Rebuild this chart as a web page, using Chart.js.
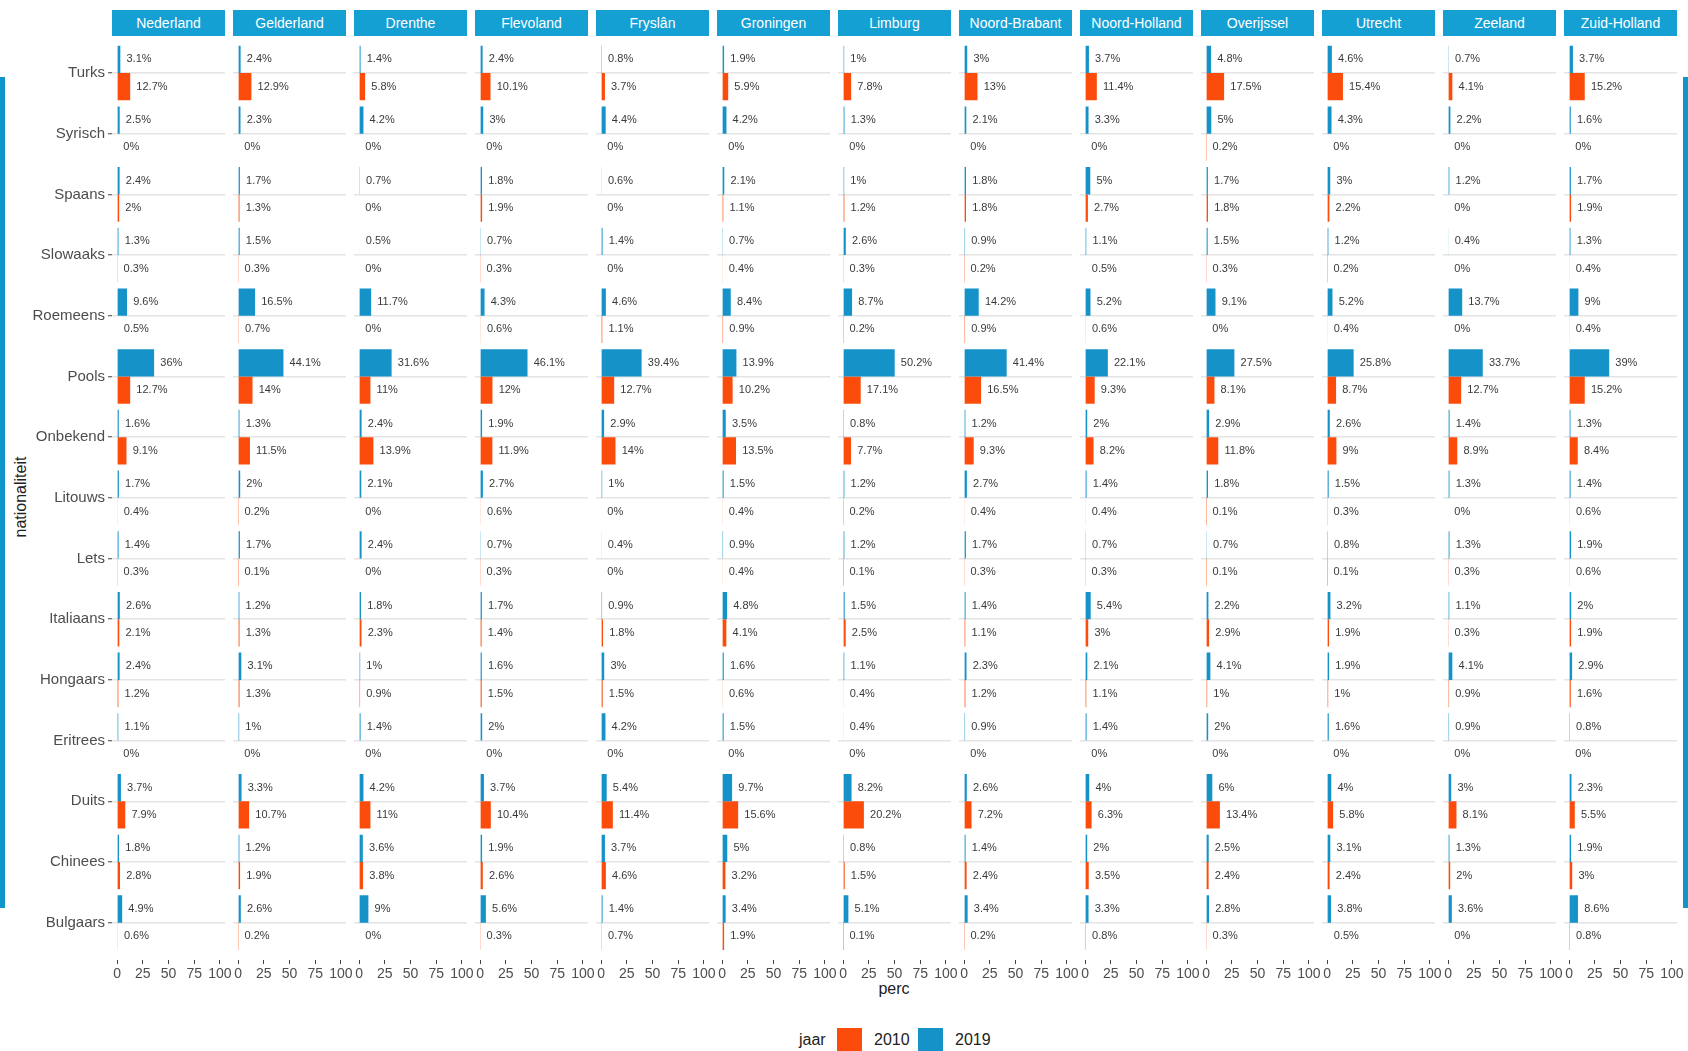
<!DOCTYPE html>
<html>
<head>
<meta charset="utf-8">
<script src="https://cdn.jsdelivr.net/npm/chart.js@4.4.1/dist/chart.umd.min.js"></script>
<style>
  body { margin: 0; background: #fff; font-family: 'Liberation Sans', Arial, sans-serif; }
  #wrap { position: relative; width: 1688px; height: 1051px; overflow: hidden; background: #fff; }
  .strip { position: absolute; top: 10px; height: 26px; line-height: 26px; background: #15a0d4; color: #fff; font-size: 14px; text-align: center; }
  .panel { position: absolute; }
  .edge { position: absolute; top: 77px; width: 5px; height: 831px; background: #0f95c9; }
  #xtitle { position: absolute; left: 844px; width: 100px; top: 980px; text-align: center; font-size: 16px; color: #222; }
  #ytitle { position: absolute; left: -39px; top: 488px; width: 120px; text-align: center; font-size: 16px; color: #222; transform: rotate(-90deg); }
  #legend { position: absolute; left: 799px; top: 1028px; height: 25px; font-size: 16px; color: #222; }
  #legend span { position: absolute; top: 3px; white-space: nowrap; }
  #legend i { position: absolute; top: 0; width: 25px; height: 25px; }
</style>
</head>
<body>
<div id="wrap">
  <div class="edge" style="left:0"></div>
  <div class="edge" style="left:1683px"></div>
  <div id="ytitle">nationaliteit</div>
  <div id="xtitle">perc</div>
  <div id="legend">
    <span style="left:0">jaar</span>
    <i style="left:38px; background:#fb4c0b"></i>
    <span style="left:75px">2010</span>
    <i style="left:119px; background:#1592c8"></i>
    <span style="left:156px">2019</span>
  </div>
</div>
<script>
// provinces (facets) and nationalities (top to bottom)
const provinces = ['Nederland', 'Gelderland', 'Drenthe', 'Flevoland', 'Fryslân', 'Groningen', 'Limburg',
  'Noord-Brabant', 'Noord-Holland', 'Overijssel', 'Utrecht', 'Zeeland', 'Zuid-Holland'];
const nationalities = ['Turks', 'Syrisch', 'Spaans', 'Slowaaks', 'Roemeens', 'Pools', 'Onbekend', 'Litouws',
  'Lets', 'Italiaans', 'Hongaars', 'Eritrees', 'Duits', 'Chinees', 'Bulgaars'];
const percTicks = [0, 25, 50, 75, 100];

// percentages per province, same order as nationalities
const nederland2019    = [3.1, 2.5, 2.4, 1.3, 9.6, 36, 1.6, 1.7, 1.4, 2.6, 2.4, 1.1, 3.7, 1.8, 4.9];
const nederland2010    = [12.7, 0, 2, 0.3, 0.5, 12.7, 9.1, 0.4, 0.3, 2.1, 1.2, 0, 7.9, 2.8, 0.6];
const gelderland2019   = [2.4, 2.3, 1.7, 1.5, 16.5, 44.1, 1.3, 2, 1.7, 1.2, 3.1, 1, 3.3, 1.2, 2.6];
const gelderland2010   = [12.9, 0, 1.3, 0.3, 0.7, 14, 11.5, 0.2, 0.1, 1.3, 1.3, 0, 10.7, 1.9, 0.2];
const drenthe2019      = [1.4, 4.2, 0.7, 0.5, 11.7, 31.6, 2.4, 2.1, 2.4, 1.8, 1, 1.4, 4.2, 3.6, 9];
const drenthe2010      = [5.8, 0, 0, 0, 0, 11, 13.9, 0, 0, 2.3, 0.9, 0, 11, 3.8, 0];
const flevoland2019    = [2.4, 3, 1.8, 0.7, 4.3, 46.1, 1.9, 2.7, 0.7, 1.7, 1.6, 2, 3.7, 1.9, 5.6];
const flevoland2010    = [10.1, 0, 1.9, 0.3, 0.6, 12, 11.9, 0.6, 0.3, 1.4, 1.5, 0, 10.4, 2.6, 0.3];
const fryslan2019      = [0.8, 4.4, 0.6, 1.4, 4.6, 39.4, 2.9, 1, 0.4, 0.9, 3, 4.2, 5.4, 3.7, 1.4];
const fryslan2010      = [3.7, 0, 0, 0, 1.1, 12.7, 14, 0, 0, 1.8, 1.5, 0, 11.4, 4.6, 0.7];
const groningen2019    = [1.9, 4.2, 2.1, 0.7, 8.4, 13.9, 3.5, 1.5, 0.9, 4.8, 1.6, 1.5, 9.7, 5, 3.4];
const groningen2010    = [5.9, 0, 1.1, 0.4, 0.9, 10.2, 13.5, 0.4, 0.4, 4.1, 0.6, 0, 15.6, 3.2, 1.9];
const limburg2019      = [1, 1.3, 1, 2.6, 8.7, 50.2, 0.8, 1.2, 1.2, 1.5, 1.1, 0.4, 8.2, 0.8, 5.1];
const limburg2010      = [7.8, 0, 1.2, 0.3, 0.2, 17.1, 7.7, 0.2, 0.1, 2.5, 0.4, 0, 20.2, 1.5, 0.1];
const noordBrabant2019 = [3, 2.1, 1.8, 0.9, 14.2, 41.4, 1.2, 2.7, 1.7, 1.4, 2.3, 0.9, 2.6, 1.4, 3.4];
const noordBrabant2010 = [13, 0, 1.8, 0.2, 0.9, 16.5, 9.3, 0.4, 0.3, 1.1, 1.2, 0, 7.2, 2.4, 0.2];
const noordHolland2019 = [3.7, 3.3, 5, 1.1, 5.2, 22.1, 2, 1.4, 0.7, 5.4, 2.1, 1.4, 4, 2, 3.3];
const noordHolland2010 = [11.4, 0, 2.7, 0.5, 0.6, 9.3, 8.2, 0.4, 0.3, 3, 1.1, 0, 6.3, 3.5, 0.8];
const overijssel2019   = [4.8, 5, 1.7, 1.5, 9.1, 27.5, 2.9, 1.8, 0.7, 2.2, 4.1, 2, 6, 2.5, 2.8];
const overijssel2010   = [17.5, 0.2, 1.8, 0.3, 0, 8.1, 11.8, 0.1, 0.1, 2.9, 1, 0, 13.4, 2.4, 0.3];
const utrecht2019      = [4.6, 4.3, 3, 1.2, 5.2, 25.8, 2.6, 1.5, 0.8, 3.2, 1.9, 1.6, 4, 3.1, 3.8];
const utrecht2010      = [15.4, 0, 2.2, 0.2, 0.4, 8.7, 9, 0.3, 0.1, 1.9, 1, 0, 5.8, 2.4, 0.5];
const zeeland2019      = [0.7, 2.2, 1.2, 0.4, 13.7, 33.7, 1.4, 1.3, 1.3, 1.1, 4.1, 0.9, 3, 1.3, 3.6];
const zeeland2010      = [4.1, 0, 0, 0, 0, 12.7, 8.9, 0, 0.3, 0.3, 0.9, 0, 8.1, 2, 0];
const zuidHolland2019  = [3.7, 1.6, 1.7, 1.3, 9, 39, 1.3, 1.4, 1.9, 2, 2.9, 0.8, 2.3, 1.9, 8.6];
const zuidHolland2010  = [15.2, 0, 1.9, 0.4, 0.4, 15.2, 8.4, 0.6, 0.6, 1.9, 1.6, 0, 5.5, 3, 0.8];

const values2019 = [nederland2019, gelderland2019, drenthe2019, flevoland2019, fryslan2019, groningen2019,
  limburg2019, noordBrabant2019, noordHolland2019, overijssel2019, utrecht2019, zeeland2019, zuidHolland2019];
const values2010 = [nederland2010, gelderland2010, drenthe2010, flevoland2010, fryslan2010, groningen2010,
  limburg2010, noordBrabant2010, noordHolland2010, overijssel2010, utrecht2010, zeeland2010, zuidHolland2010];

const blue = '#1592c8';
const orange = '#fb4c0b';

// layout of the facet grid
const PANEL_X0 = 112, PANEL_STEP = 121, PANEL_W = 113;
const CANVAS_TOP = 36, AREA_TOP = 42.7, AREA_H = 910.3, XAXIS_H = 30, SIDE = 14;

// "12.7%" text next to each bar
const valueLabels = {
  id: 'valueLabels',
  afterDatasetsDraw(chart) {
    const ctx = chart.ctx;
    const xs = chart.scales.x;
    ctx.save();
    ctx.font = '11px "Liberation Sans", Arial, sans-serif';
    ctx.fillStyle = '#3a3a3a';
    ctx.textAlign = 'left';
    ctx.textBaseline = 'middle';
    chart.data.datasets.forEach((ds, di) => {
      chart.getDatasetMeta(di).data.forEach((bar, i) => {
        const v = ds.data[i];
        ctx.fillText(v + '%', xs.getPixelForValue(v + 6), bar.y);
      });
    });
    ctx.restore();
  }
};

Chart.defaults.font.family = "'Liberation Sans', Arial, sans-serif";

const wrap = document.getElementById('wrap');

provinces.forEach((name, p) => {
  const first = p === 0;
  const left = PANEL_X0 + PANEL_STEP * p;

  const strip = document.createElement('div');
  strip.className = 'strip';
  strip.style.left = left + 'px';
  strip.style.width = PANEL_W + 'px';
  strip.textContent = name;
  wrap.appendChild(strip);

  const cLeft = first ? 0 : left - SIDE;
  const cw = (left - cLeft) + PANEL_W + SIDE;
  const ch = Math.round(AREA_TOP - CANVAS_TOP + AREA_H + XAXIS_H);
  const canvas = document.createElement('canvas');
  canvas.className = 'panel';
  canvas.width = cw;
  canvas.height = ch;
  canvas.style.left = cLeft + 'px';
  canvas.style.top = CANVAS_TOP + 'px';
  wrap.appendChild(canvas);

  new Chart(canvas, {
    type: 'bar',
    data: {
      labels: nationalities,
      datasets: [
        { label: '2019', data: values2019[p], backgroundColor: blue, categoryPercentage: 0.9, barPercentage: 1 },
        { label: '2010', data: values2010[p], backgroundColor: orange, categoryPercentage: 0.9, barPercentage: 1 }
      ]
    },
    options: {
      indexAxis: 'y',
      responsive: false,
      animation: false,
      layout: { padding: { left: first ? 0 : SIDE, right: SIDE, top: AREA_TOP - CANVAS_TOP, bottom: 0 } },
      plugins: { legend: { display: false }, tooltip: { enabled: false } },
      scales: {
        x: {
          type: 'linear',
          min: -5,
          max: 105,
          afterBuildTicks: s => { s.ticks = percTicks.map(v => ({ value: v })); },
          afterFit: s => { s.height = XAXIS_H; },
          border: { display: false },
          grid: { drawOnChartArea: false, tickLength: 11, tickColor: '#444', tickWidth: 1, tickBorderDash: [0, 7, 4, 20] },
          ticks: { autoSkip: false, maxRotation: 0, minRotation: 0, padding: 2, color: '#4d4d4d', font: { size: 14 } }
        },
        y: {
          border: { display: false },
          afterFit: s => { s.width = first ? PANEL_X0 : 0; s.paddingTop = 0; s.paddingBottom = 0; },
          grid: { offset: false, color: '#e4e4e4', lineWidth: 1.5, drawTicks: first, tickLength: 4, tickColor: '#444', tickWidth: 1 },
          ticks: { display: first, color: '#4d4d4d', font: { size: 15 }, padding: 3 }
        }
      }
    },
    plugins: [valueLabels]
  });
});
</script>
</body>
</html>
